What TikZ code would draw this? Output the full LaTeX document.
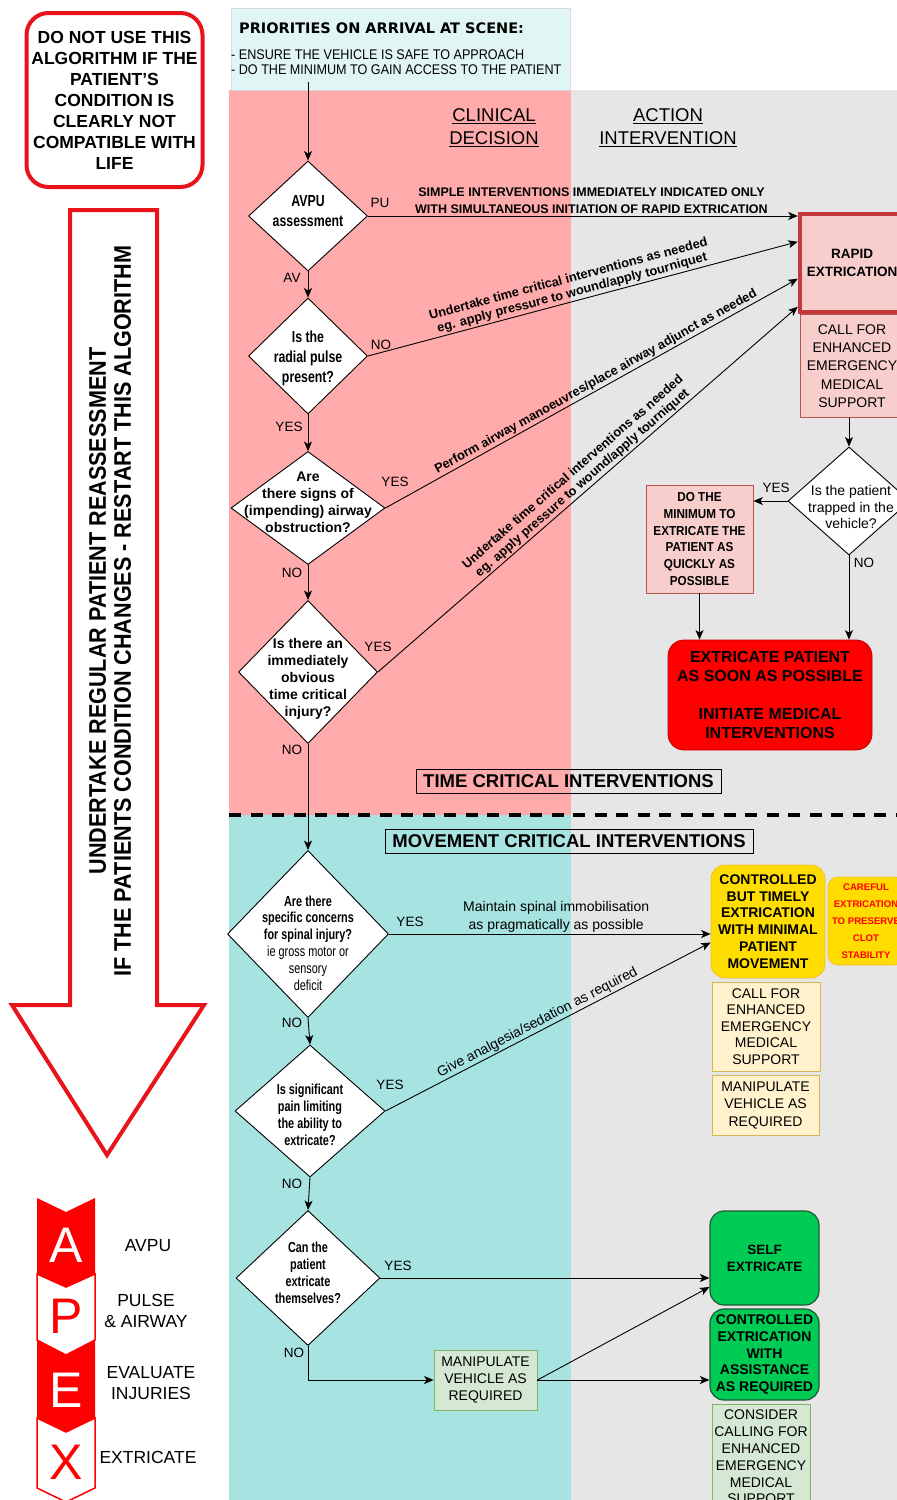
\documentclass[tikz,border=0pt]{standalone}
\usepackage{fontspec}
\setmainfont{Liberation Sans}
\newfontfamily\cfa{Liberation Sans}[FakeStretch=0.95]
\newfontfamily\cfb{Liberation Sans}[FakeStretch=0.9]
\newfontfamily\cfc{Liberation Sans}[FakeStretch=0.77]
\newfontfamily\cfd{Liberation Sans}[FakeStretch=0.75]
\newfontfamily\dvs{DejaVu Sans}
\usetikzlibrary{shapes.geometric,arrows.meta}
\definecolor{pinkbg}{HTML}{FFABAB}
\definecolor{greybg}{HTML}{E6E6E6}
\definecolor{tealbg}{HTML}{A7E3E0}
\definecolor{priofill}{HTML}{E1F5F5}
\definecolor{rosefill}{HTML}{F8CECC}
\definecolor{roseline}{HTML}{B85450}
\definecolor{rapidline}{HTML}{C4393C}
\definecolor{brightred}{HTML}{FF0000}
\definecolor{yel}{HTML}{FFDD00}
\definecolor{yelline}{HTML}{F0C030}
\definecolor{ltyel}{HTML}{FFF2CC}
\definecolor{ltyelline}{HTML}{D6B656}
\definecolor{grn}{HTML}{00CC55}
\definecolor{grnline}{HTML}{1E5A33}
\definecolor{ltgrn}{HTML}{D5E8D4}
\definecolor{ltgrnline}{HTML}{82B366}
\definecolor{warnred}{HTML}{E8141B}
\tikzset{
  arr/.style={line width=0.9pt, -{Stealth[length=9.5pt,width=8pt,inset=2.5pt]}},
  dia/.style={shape=diamond, draw=black, line width=0.9pt, fill=white, inner sep=0pt},
  dtxtbig/.style={align=center, inner sep=0pt, font=\cfc\bfseries\fontsize{16}{20}\selectfont},
  dtxt/.style={align=center, inner sep=0pt, font=\bfseries\fontsize{14}{17}\selectfont},
  dtxtsm/.style={align=center, inner sep=0pt, font=\cfd\bfseries\fontsize{14.5}{16.8}\selectfont},
  lbl/.style={inner sep=0pt, font=\fontsize{13.5}{15}\selectfont},
  slab/.style={align=center, inner sep=1.5pt, font=\bfseries\fontsize{12.8}{14.5}\selectfont},
  rlab/.style={align=center, inner sep=1.5pt, font=\fontsize{14}{18}\selectfont},
  box/.style={draw, align=center, inner sep=0pt},
  boldtxt/.style={font=\bfseries\fontsize{14}{16.8}\selectfont},
  titlebox/.style={draw=black, line width=0.8pt, inner sep=0pt, font=\bfseries\fontsize{18.5}{20}\selectfont},
  apexlbl/.style={align=center, inner sep=0pt, font=\fontsize{17.5}{21.5}\selectfont},
  apexletter/.style={inner sep=0pt, font=\fontsize{50}{50}\selectfont}
}
\begin{document}
\begin{tikzpicture}[x=1pt,y=-1pt]
\useasboundingbox (0,0) rectangle (897,1500);
\clip (0,0) rectangle (897,1500);
\fill[white] (0,0) rectangle (897,1500);
% backgrounds
\fill[greybg] (571,90) rectangle (897,1500);
\fill[pinkbg] (229,90) rectangle (571,815);
\fill[tealbg] (229,815) rectangle (571,1500);
\draw[line width=4pt, dash pattern=on 12pt off 9.5pt] (229,815) -- (897,815);

% warning box
\node[box, draw=warnred, line width=4pt, rounded corners=22pt, fill=white,
      minimum width=176pt, minimum height=174pt,
      font=\bfseries\fontsize{17.5}{21}\selectfont] (warn) at (114.5,100)
  {DO NOT USE THIS\\ALGORITHM IF THE\\PATIENT'S\\CONDITION IS\\CLEARLY NOT\\COMPATIBLE WITH\\LIFE};

% big arrow
\draw[warnred, line width=4pt, fill=white] (70,210) -- (157,210) -- (157,1005) -- (204,1005)
  -- (107,1155) -- (12,1005) -- (70,1005) -- cycle;
\node[rotate=90, align=center, inner sep=0pt, font=\cfb\bfseries\fontsize{24}{25}\selectfont] (arrtxt) at (110,611)
  {UNDERTAKE REGULAR PATIENT REASSESSMENT\\IF THE PATIENTS CONDITION CHANGES - RESTART THIS ALGORITHM};

% APEX
\fill[brightred] (37,1198) -- (66,1212) -- (95,1198) -- (95,1274) -- (66,1287) -- (37,1274) -- cycle;
\draw[brightred, line width=1.5pt, fill=white] (37,1274) -- (66,1287) -- (95,1274) -- (95,1340) -- (66,1355) -- (37,1340) -- cycle;
\fill[brightred] (37,1340) -- (66,1355) -- (95,1340) -- (95,1418) -- (66,1432) -- (37,1418) -- cycle;
\draw[brightred, line width=1.5pt, fill=white] (37,1418) -- (66,1432) -- (95,1418) -- (95,1488) -- (66,1502) -- (37,1488) -- cycle;
\node[apexletter, text=white] (la) at (66,1245) {A};
\node[apexletter, text=brightred] (lp) at (66,1316) {P};
\node[apexletter, text=white] (le) at (66,1390) {E};
\node[apexletter, text=brightred] (lx) at (66,1462) {X};
\node[apexlbl] (ta) at (148,1246) {AVPU};
\node[apexlbl] (tp) at (146,1311) {PULSE\\\& AIRWAY};
\node[apexlbl] (te) at (151,1383) {EVALUATE\\INJURIES};
\node[apexlbl] (tx) at (148,1457) {EXTRICATE};

% priorities box
\node[draw=black!15, fill=priofill, minimum width=339pt, minimum height=82pt, anchor=north west, inner sep=0pt] (prio) at (231,8) {};
\node[anchor=west, inner sep=0pt, font=\dvs\bfseries\fontsize{14.5}{17}\selectfont] (priot) at (239,28) {PRIORITIES ON ARRIVAL AT SCENE:};
\node[anchor=north west, align=left, inner sep=0pt, font=\cfb\fontsize{14}{15}\selectfont] (prios) at (231,49.5)
  {- ENSURE THE VEHICLE IS SAFE TO APPROACH\\- DO THE MINIMUM TO GAIN ACCESS TO THE PATIENT};
\coordinate (prioout) at (308,82);

% column headers
\node[align=center, inner sep=0pt, font=\fontsize{18.5}{23}\selectfont] (clin) at (494,128) {\underline{CLINICAL}\\\underline{DECISION}};
\node[align=center, inner sep=0pt, font=\fontsize{18.5}{23}\selectfont] (act) at (668,128) {\underline{ACTION}\\\underline{INTERVENTION}};

% diamonds
\node[dia, minimum width=119pt, minimum height=110pt] (d1) at (308,216) {};
\node[dtxtbig] (d1t) at (308,211) {AVPU\\assessment};
\node[dia, minimum width=119pt, minimum height=116pt] (d2) at (308,356) {};
\node[dtxtbig] (d2t) at (308,358) {Is the\\radial pulse\\present?};
\node[dia, minimum width=154pt, minimum height=113pt] (d3) at (308,508) {};
\node[dtxt] (d3t) at (308,502) {Are\\there signs of\\(impending) airway\\obstruction?};
\node[dia, minimum width=139pt, minimum height=143pt] (d4) at (308,672) {};
\node[dtxt] (d4t) at (308,679) {Is there an\\immediately\\obvious\\time critical\\injury?};
\node[dia, minimum width=161pt, minimum height=167pt] (d5) at (308,934) {};
\node[dtxtsm] (d5t) at (308,943) {Are there\\specific concerns\\for spinal injury?\\{\mdseries ie gross motor or}\\{\mdseries sensory}\\{\mdseries deficit}};
\node[dia, minimum width=150pt, minimum height=132pt] (d6) at (310,1111) {};
\node[dtxtsm] (d6t) at (310,1115) {Is significant\\pain limiting\\the ability to\\extricate?};
\node[dia, minimum width=144pt, minimum height=135pt] (d7) at (308,1278) {};
\node[dtxtsm] (d7t) at (308,1273) {Can the\\patient\\extricate\\themselves?};

% right side upper
\node[box, fill=rosefill, draw=rapidline, line width=4.5pt, minimum width=104pt, minimum height=98pt,
      font=\bfseries\fontsize{13.5}{18}\selectfont] (rapid) at (852,263) {RAPID\\EXTRICATION};
\node[box, fill=rosefill, draw=roseline, line width=0.8pt, minimum width=104pt, minimum height=103pt,
      font=\fontsize{14}{18.3}\selectfont] (callr) at (852,366) {CALL FOR\\ENHANCED\\EMERGENCY\\MEDICAL\\SUPPORT};
\node[dia, minimum width=122pt, minimum height=108pt] (td) at (849,501) {};
\node[align=center, inner sep=0pt, font=\fontsize{14}{16.8}\selectfont] (tdt) at (851,507) {Is the patient\\trapped in the\\vehicle?};
\node[box, fill=rosefill, draw=roseline, line width=0.8pt, minimum width=107pt, minimum height=108pt,
      font=\cfb\bfseries\fontsize{13}{16.8}\selectfont] (domin) at (699.5,539)
  {DO THE\\MINIMUM TO\\EXTRICATE THE\\PATIENT AS\\QUICKLY AS\\POSSIBLE};
\node[box, fill=brightred, draw=red!75!black, line width=0.8pt, rounded corners=16pt, minimum width=204pt, minimum height=110pt,
      font=\bfseries\fontsize{16}{19}\selectfont] (redbox) at (770,695)
  {EXTRICATE PATIENT\\AS SOON AS POSSIBLE\\[19pt]INITIATE MEDICAL\\INTERVENTIONS};

\node[titlebox, minimum width=305pt, minimum height=24pt] (tci) at (568.5,781) {TIME CRITICAL INTERVENTIONS};
\node[titlebox, minimum width=368pt, minimum height=24pt] (mci) at (569,841) {MOVEMENT CRITICAL INTERVENTIONS};

% right side lower
\node[box, fill=yel, draw=yelline, line width=0.8pt, rounded corners=14pt, minimum width=114pt, minimum height=113pt,
      boldtxt] (ctb) at (768,921.5) {CONTROLLED\\BUT TIMELY\\EXTRICATION\\WITH MINIMAL\\PATIENT\\MOVEMENT};
\node[box, fill=yel, draw=yelline, line width=0.8pt, rounded corners=10pt, minimum width=76pt, minimum height=88pt,
      text=brightred, font=\bfseries\fontsize{9.6}{17}\selectfont] (careful) at (866,921) {CAREFUL\\EXTRICATION\\TO PRESERVE\\CLOT\\STABILITY};
\node[box, fill=ltyel, draw=ltyelline, line width=0.8pt, minimum width=108pt, minimum height=89pt,
      font=\fontsize{14}{16.5}\selectfont] (cally) at (766,1026.5) {CALL FOR\\ENHANCED\\EMERGENCY\\MEDICAL\\SUPPORT};
\node[box, fill=ltyel, draw=ltyelline, line width=0.8pt, minimum width=107pt, minimum height=60pt,
      font=\fontsize{14}{17.5}\selectfont] (maniy) at (765.5,1105) {MANIPULATE\\VEHICLE AS\\REQUIRED};

\node[box, fill=grn, draw=grnline, line width=1.2pt, rounded corners=14pt, minimum width=109pt, minimum height=94pt,
      font=\bfseries\fontsize{13.5}{17}\selectfont] (self) at (764.5,1258) {SELF\\EXTRICATE};
\node[box, fill=grn, draw=grnline, line width=1.2pt, rounded corners=14pt, minimum width=109pt, minimum height=91pt,
      boldtxt] (ctrl) at (764.5,1354.5) {CONTROLLED\\EXTRICATION\\WITH\\ASSISTANCE\\AS REQUIRED};
\node[box, fill=ltgrn, draw=ltgrnline, line width=0.8pt, minimum width=98pt, minimum height=106pt,
      font=\fontsize{14}{16.8}\selectfont, text depth=0pt] (consider) at (761,1457) {CONSIDER\\CALLING FOR\\ENHANCED\\EMERGENCY\\MEDICAL\\SUPPORT};
\node[box, fill=ltgrn, draw=ltgrnline, line width=0.8pt, minimum width=103pt, minimum height=60pt,
      font=\fontsize{14}{17}\selectfont] (manig) at (485.5,1380) {MANIPULATE\\VEHICLE AS\\REQUIRED};

% connectors
\draw[arr] (prioout) -- (d1.north);
\draw[arr] (d1.east) -- node[slab, pos=0.52, above, font=\bfseries\fontsize{12.5}{17}\selectfont] (simple)
  {SIMPLE INTERVENTIONS IMMEDIATELY INDICATED ONLY\\WITH SIMULTANEOUS INITIATION OF RAPID EXTRICATION} (d1.east -| rapid.west);
\draw[arr] (d1.south) -- (d2.north);
\draw[arr] (d2.east) -- node[slab, pos=0.48, above, sloped] (s1)
  {Undertake time critical interventions as needed\\eg. apply pressure to wound/apply tourniquet} ([yshift=-30pt]rapid.north west);
\draw[arr] (d2.south) -- (d3.north);
\draw[arr] (d3.east) -- node[slab, pos=0.52, above, sloped] (s2)
  {Perform airway manoeuvres/place airway adjunct as needed} ([yshift=-67pt]rapid.north west);
\draw[arr] (d3.south) -- (d4.north);
\draw[arr] (d4.east) -- node[slab, pos=0.5, above, sloped] (s3)
  {Undertake time critical interventions as needed\\eg. apply pressure to wound/apply tourniquet} ([yshift=-95pt]rapid.north west);
\draw[arr] (d4.south) -- (d5.north);
\draw[arr] (callr.south -| td.north) -- (td.north);
\draw[arr] (td.west) -- (td.west -| domin.east);
\draw[arr] (td.south) -- (td.south |- redbox.north);
\draw[arr] (domin.south) -- (domin.south |- redbox.north);
\draw[arr] (d5.east) -- node[rlab, pos=0.52, above] (s4)
  {Maintain spinal immobilisation\\as pragmatically as possible} (d5.east -| ctb.west);
\draw[arr] (d5.south) -- (d6.north);
\draw[arr] (d6.east) -- node[rlab, pos=0.48, above, sloped] (s5)
  {Give analgesia/sedation as required} ([yshift=-21pt]ctb.west);
\draw[arr] (d6.south) -- (d7.north);
\draw[arr] (d7.east) -- (d7.east -| self.west);
\draw[arr] (d7.south) |- (manig.west);
\draw[arr] (manig.east) -- ([yshift=-29pt]self.west);
\draw[arr] (manig.east) -- (manig.east -| ctrl.west);

% branch labels
\node[lbl] (lpu) at (380,203) {PU};
\node[lbl] (lav) at (292,278) {AV};
\node[lbl] (lno1) at (381,345) {NO};
\node[lbl] (lyes1) at (289,427) {YES};
\node[lbl] (lyes2) at (395,482) {YES};
\node[lbl] (lno2) at (292,573) {NO};
\node[lbl] (lyes3) at (378,647) {YES};
\node[lbl] (lno3) at (292,750) {NO};
\node[lbl] (lyes4) at (410,922) {YES};
\node[lbl] (lno4) at (292,1023) {NO};
\node[lbl] (lyes5) at (390,1085) {YES};
\node[lbl] (lno5) at (292,1184) {NO};
\node[lbl] (lyes6) at (398,1266) {YES};
\node[lbl] (lno6) at (294,1353) {NO};
\node[lbl] (lyes7) at (776,488) {YES};
\node[lbl] (lno7) at (864,563) {NO};
\end{tikzpicture}
\end{document}
